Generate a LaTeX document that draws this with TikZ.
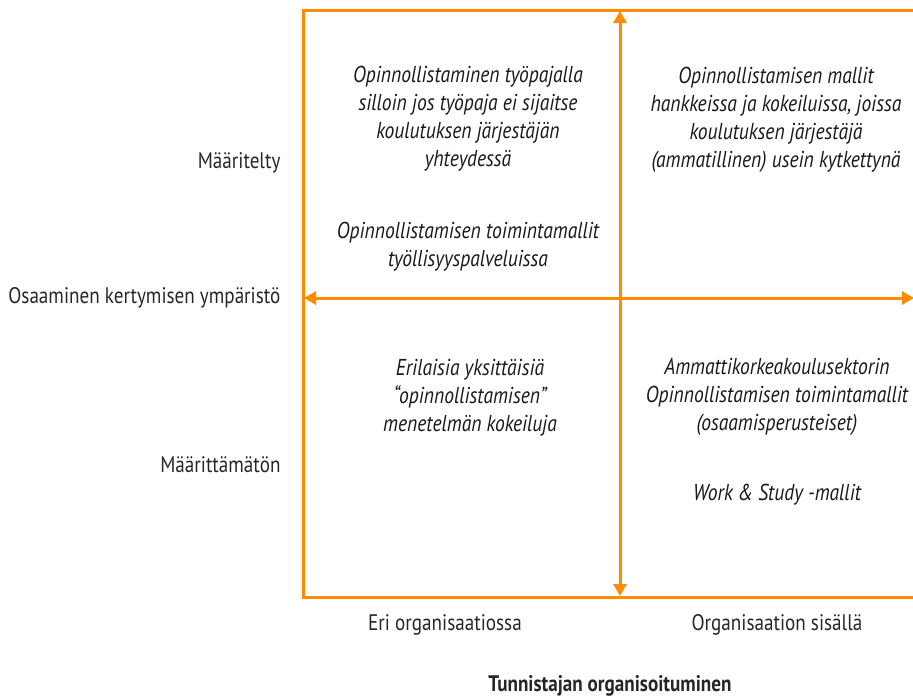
\documentclass[tikz,border=0pt]{standalone}
\usepackage{fontspec}
\setmainfont{PT Sans}[FakeStretch=0.85]
\usetikzlibrary{arrows.meta}
\definecolor{axisorange}{RGB}{255,140,0}
\begin{document}
\begin{tikzpicture}[x=1pt,y=-1pt,
  frame/.style={draw=axisorange,line width=3pt},
  axis/.style={draw=axisorange,line width=3pt,{Triangle[length=12pt,width=13pt]}-{Triangle[length=12pt,width=13pt]}},
  quad/.style={align=center,font=\fontsize{23}{28}\selectfont\itshape,text=black!90},
  lbl/.style={font=\fontsize{22.5}{26}\selectfont,text=black!85}]
\useasboundingbox (0,0) rectangle (913,696);
\clip (0,0) rectangle (913,696);
\coordinate (tl) at (303,10);
\coordinate (bl) at (303,597);
\coordinate (tr) at (925,10);
\coordinate (br) at (925,597);
\draw[frame] (tr) -- (tl) -- (bl) -- (br);
\coordinate (vt) at (620,11);
\coordinate (vb) at (620,596);
\draw[axis] (vb) -- (vt);
\coordinate (hl) at (304,298);
\coordinate (hr) at (914,298);
\draw[axis] (hl) -- (hr);
\node[lbl,anchor=east] (def) at (284,163) {Määritelty};
\node[lbl,anchor=east] (env) at (284,298) {Osaaminen kertymisen ympäristö};
\node[lbl,anchor=east] (undef) at (284,465) {Määrittämätön};
\node[quad] (q1) at (468,169) {Opinnollistaminen työpajalla\\silloin jos työpaja ei sijaitse\\koulutuksen järjestäjän\\yhteydessä\\[44pt]Opinnollistamisen toimintamallit\\työllisyyspalveluissa};
\node[quad] (q2) at (776,120) {Opinnollistamisen mallit\\hankkeissa ja kokeiluissa, joissa\\koulutuksen järjestäjä\\(ammatillinen) usein kytkettynä};
\node[quad] (q3) at (470,398) {Erilaisia yksittäisiä\\“opinnollistamisen”\\menetelmän kokeiluja};
\node[quad] (q4) at (777,432) {Ammattikorkeakoulusektorin\\Opinnollistamisen toimintamallit\\(osaamisperusteiset)\\[42pt]Work \& Study -mallit};
\node[lbl] (x1) at (445,625) {Eri organisaatiossa};
\node[lbl] (x2) at (777,625) {Organisaation sisällä};
\node[lbl,font=\fontsize{22.5}{26}\selectfont\bfseries] (xt) at (610,686) {Tunnistajan organisoituminen};
\end{tikzpicture}
\end{document}
